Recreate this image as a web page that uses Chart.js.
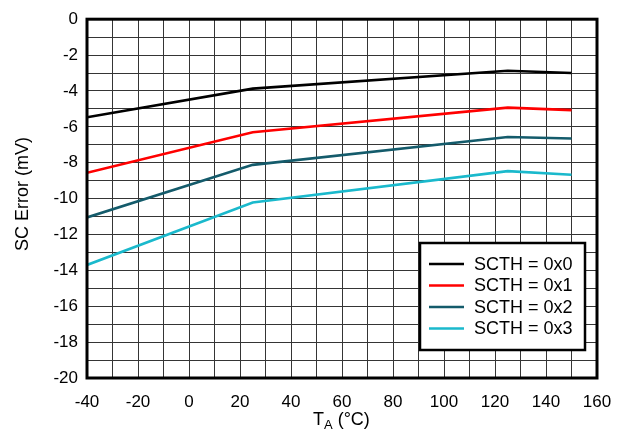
<!DOCTYPE html>
<html>
<head>
<meta charset="utf-8">
<script src="https://cdn.jsdelivr.net/npm/chart.js"></script>
<style>
  html, body { margin: 0; padding: 0; background: #fff; }
  #wrap { width: 627px; height: 434px; }
</style>
</head>
<body>
<div id="wrap"><canvas id="scErr" width="627" height="434"></canvas></div>
<script>
    // Temperature points (°C) and SC error (mV) per threshold setting
    const temps = [-40, 25, 125, 150];
    const scth0 = [-5.47, -3.87, -2.87, -3.0];
    const scth1 = [-8.56, -6.30, -4.93, -5.07];
    const scth2 = [-11.05, -8.12, -6.57, -6.65];
    const scth3 = [-13.70, -10.22, -8.47, -8.67];
    const labels = ['SCTH = 0x0', 'SCTH = 0x1', 'SCTH = 0x2', 'SCTH = 0x3'];
    const colors = ['#000000', '#ff0000', '#145b6b', '#1ab9cc'];
    const xTicks = [-40, -20, 0, 20, 40, 60, 80, 100, 120, 140, 160];
    const yTicks = [0, -2, -4, -6, -8, -10, -12, -14, -16, -18, -20];

    const FONT = 'Liberation Sans, Arial, sans-serif';
    const GRID = '#353535';

    function series(vals) {
        return temps.map((t, i) => ({ x: t, y: vals[i] }));
    }

    const datasets = [scth0, scth1, scth2, scth3].map((vals, i) => ({
        label: labels[i],
        data: series(vals),
        borderColor: colors[i],
        backgroundColor: colors[i],
        borderWidth: 2.6,
        pointRadius: 0,
        showLine: true,
        tension: 0,
    }));

    // frame, axis titles and the boxed legend
    const decorations = {
        id: 'decorations',
        afterDatasetsDraw(chart) {
            const ctx = chart.ctx;
            const a = chart.chartArea;
            ctx.save();
            ctx.strokeStyle = '#000';
            ctx.lineWidth = 3;
            ctx.strokeRect(a.left, a.top, a.right - a.left, a.bottom - a.top);

            // legend box
            const bx = 420, by = 243, bw = 165, bh = 107;
            ctx.fillStyle = '#fff';
            ctx.fillRect(bx, by, bw, bh);
            ctx.lineWidth = 2.5;
            ctx.strokeRect(bx, by, bw, bh);
            ctx.font = '18px ' + FONT;
            ctx.textBaseline = 'middle';
            ctx.textAlign = 'left';
            chart.data.datasets.forEach((ds, i) => {
                const y = by + 21 + i * 21.5;
                ctx.strokeStyle = ds.borderColor;
                ctx.lineWidth = 2.6;
                ctx.beginPath();
                ctx.moveTo(429, y);
                ctx.lineTo(464, y);
                ctx.stroke();
                ctx.fillStyle = '#000';
                ctx.fillText(ds.label, 474, y + 1);
            });

            // y title
            ctx.fillStyle = '#000';
            ctx.translate(23, 194);
            ctx.rotate(-Math.PI / 2);
            ctx.textAlign = 'center';
            ctx.font = '18px ' + FONT;
            ctx.fillText('SC Error (mV)', 0, 0);
            ctx.restore();

            // x title with subscript
            ctx.save();
            ctx.fillStyle = '#000';
            ctx.textBaseline = 'alphabetic';
            ctx.textAlign = 'left';
            const big = '18px ' + FONT, small = '13px ' + FONT;
            ctx.font = big;
            const wT = ctx.measureText('T').width;
            const wRest = ctx.measureText(' (°C)').width;
            ctx.font = small;
            const wA = ctx.measureText('A').width;
            let x = 313;
            const base = 425;
            ctx.font = big;
            ctx.fillText('T', x, base);
            x += wT;
            ctx.font = small;
            ctx.fillText('A', x, base + 4);
            x += wA;
            ctx.font = big;
            ctx.fillText(' (°C)', x, base);
            ctx.restore();
        }
    };

    new Chart(document.getElementById('scErr'), {
        type: 'scatter',
        data: { datasets: datasets },
        options: {
            responsive: false,
            animation: false,
            layout: { padding: { top: 16, right: 30, left: 0, bottom: 0 } },
            plugins: {
                legend: { display: false },
                tooltip: { enabled: false },
            },
            scales: {
                x: {
                    type: 'linear',
                    min: -40,
                    max: 160,
                    afterBuildTicks(scale) {
                        const t = [];
                        for (let v = -40; v <= 160; v += 10) t.push({ value: v });
                        scale.ticks = t;
                    },
                    afterFit(scale) { scale.height = 56; },
                    grid: { color: GRID, lineWidth: 1, drawTicks: false },
                    border: { display: false },
                    ticks: {
                        color: '#000',
                        font: { family: FONT, size: 17 },
                        padding: 14,
                        maxRotation: 0,
                        autoSkip: false,
                        callback: v => xTicks.includes(v) ? String(v) : '',
                    },
                },
                y: {
                    type: 'linear',
                    min: -20,
                    max: 0,
                    afterBuildTicks(scale) {
                        const t = [];
                        for (let v = -20; v <= 0; v += 1) t.push({ value: v });
                        scale.ticks = t;
                    },
                    afterFit(scale) { scale.width = 87; },
                    grid: { color: GRID, lineWidth: 1, drawTicks: false },
                    border: { display: false },
                    ticks: {
                        color: '#000',
                        font: { family: FONT, size: 17 },
                        padding: 9,
                        autoSkip: false,
                        callback: v => yTicks.includes(v) ? String(v) : '',
                    },
                },
            },
        },
        plugins: [decorations],
    });
</script>
</body>
</html>
